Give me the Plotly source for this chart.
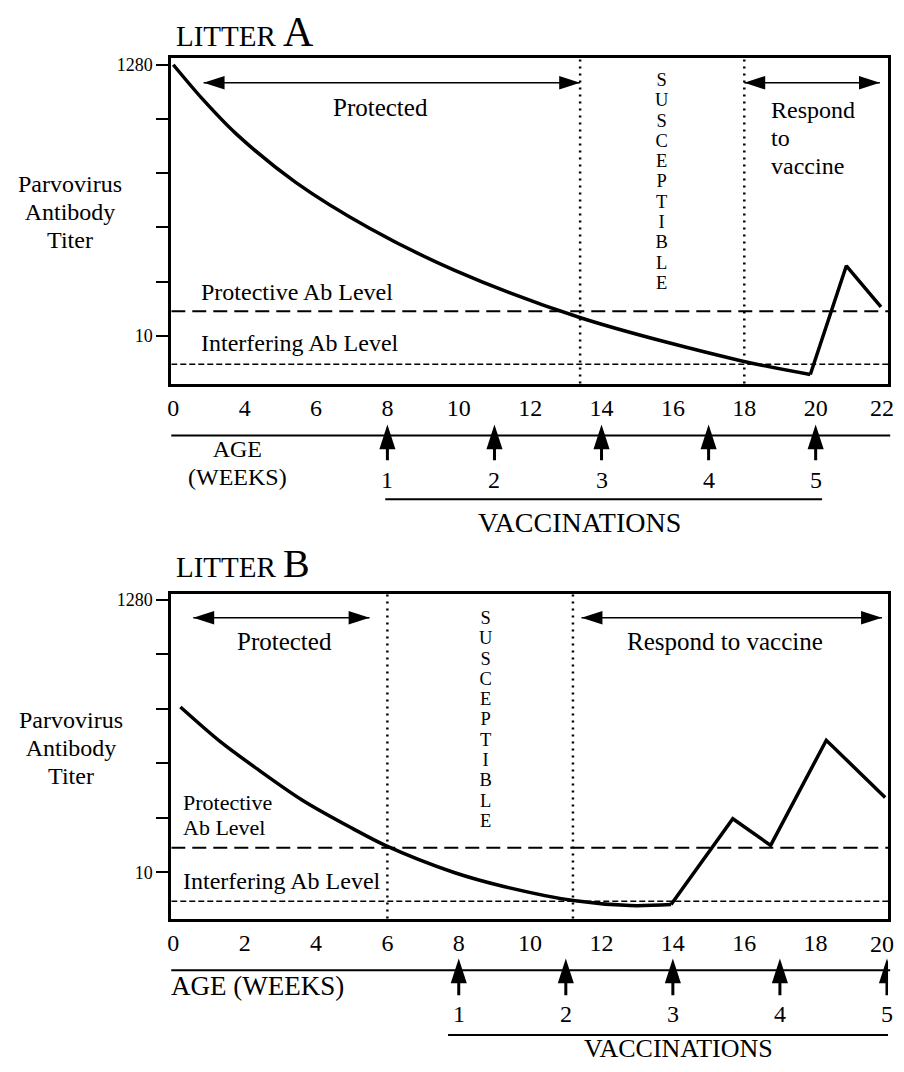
import numpy as np
import plotly.graph_objects as go

# the HTML body keeps its default 8px margin; the figure is sized to fit the window exactly
OFF = 8
W, H = 904 - 2 * OFF, 1072 - 2 * OFF
FONT = "Liberation Serif"

# ---------------- data ----------------
# Litter A (x axis labels are equally spaced, not linear in weeks)
a_tick_weeks = [0, 4, 6, 8, 10, 12, 14, 16, 18, 20, 22]
a_decay_weeks = [0, 1.67, 3.51, 5.43, 7.50, 9.87, 13.41, 17.9, 19.85]
a_decay_titer = [1280, 685, 373, 156, 68.6, 32.4, 13.8, 6.4, 5.0]
a_resp_weeks = [19.85, 20.86, 21.83]
a_resp_titer = [5.0, 35, 16.8]
a_boundaries = [13.4, 18]
a_protected_span = [1.7, 13.4]
a_respond_span = [18, 21.8]

# Litter B
b_tick_weeks = [0, 2, 4, 6, 8, 10, 12, 14, 16, 18, 20]
b_decay_weeks = [0.2, 1.31, 2.32, 3.63, 5.02, 5.94, 7.87, 9.26, 11.21, 12.8, 13.95]
b_decay_titer = [190, 103, 64, 36, 21.9, 16.2, 10, 7.8, 6.07, 5.55, 5.65]
b_resp_weeks = [13.95, 15.68, 16.74, 18.3, 19.95]
b_resp_titer = [5.65, 26, 16.2, 105, 38]
b_boundaries = [6, 11.2]
b_protected_span = [0.56, 5.5]
b_respond_span = [11.44, 19.86]

vacc_weeks = [8, 11, 14, 17, 20]
vacc_labels = ["1", "2", "3", "4", "5"]
protective_level = 15.5
interfering_level = 6.0
ytick_vals = list(np.geomspace(10, 1280, 6))
ytick_text = ["10", "", "", "", "", "1280"]

# ---------------- helpers ----------------
def px(x):
    return (x - OFF) / W

def py(y):
    return 1 - (y - OFF) / H

def xa(w):
    return np.interp(w, a_tick_weeks, np.arange(len(a_tick_weeks)))

def xb(w):
    return np.asarray(w, dtype=float)

def ml(parts, size):
    return "<br>".join(f"<span style='font-size:{size}px'>{p}</span>" for p in parts)

# panel geometry (page pixels)
A_TOP, A_BOT = 54, 381
B_TOP, B_BOT = 592, 918
LEFT, RIGHT = 168, 888
A_YR = [0.628, 3.161]
B_YR = [0.644, 3.153]
A_XR = [-0.028, 10.014]
B_XR = [-0.056, 20.03]

def yfrac(f, yr):
    return 10 ** (yr[0] + f * (yr[1] - yr[0]))

fig = go.Figure()
BLK = "black"

panels = [
    dict(xf=xa, xr=A_XR, yr=A_YR, xa="x", ya="y", vx="x3", vy="y3", top=A_TOP, bot=A_BOT,
         dw=a_decay_weeks, dt=a_decay_titer, rw=a_resp_weeks, rt=a_resp_titer,
         bnd=a_boundaries, spans=[a_protected_span, a_respond_span], arrow_f=0.9235, tip=0.78),
    dict(xf=xb, xr=B_XR, yr=B_YR, xa="x2", ya="y2", vx="x4", vy="y4", top=B_TOP, bot=B_BOT,
         dw=b_decay_weeks, dt=b_decay_titer, rw=b_resp_weeks, rt=b_resp_titer,
         bnd=b_boundaries, spans=[b_protected_span, b_respond_span], arrow_f=0.926, tip=0.80),
]

shapes = []
for p in panels:
    f = p["xf"]
    fig.add_trace(go.Scatter(x=p["xr"], y=[protective_level] * 2, mode="lines",
                             line=dict(color=BLK, width=2, dash="14px,7px"),
                             xaxis=p["xa"], yaxis=p["ya"], showlegend=False, hoverinfo="skip"))
    fig.add_trace(go.Scatter(x=p["xr"], y=[interfering_level] * 2, mode="lines",
                             line=dict(color=BLK, width=1.5, dash="6px,3px"),
                             xaxis=p["xa"], yaxis=p["ya"], showlegend=False, hoverinfo="skip"))
    fig.add_trace(go.Scatter(x=f(p["dw"]), y=p["dt"], mode="lines",
                             line=dict(color=BLK, width=3.5, shape="spline", smoothing=0.9),
                             xaxis=p["xa"], yaxis=p["ya"], showlegend=False))
    fig.add_trace(go.Scatter(x=f(p["rw"]), y=p["rt"], mode="lines",
                             line=dict(color=BLK, width=3.5),
                             xaxis=p["xa"], yaxis=p["ya"], showlegend=False))
    for b in p["bnd"]:
        shapes.append(dict(type="line", xref=p["xa"], yref=p["ya"] + " domain",
                           x0=float(f(b)), x1=float(f(b)), y0=0, y1=1,
                           line=dict(color=BLK, width=2.5, dash="2px,5px")))
    yv = yfrac(p["arrow_f"], p["yr"])
    for s in p["spans"]:
        fig.add_trace(go.Scatter(x=f(s), y=[yv, yv], mode="lines+markers",
                                 line=dict(color=BLK, width=1.5),
                                 marker=dict(symbol="arrow", size=22, angle=[-90, 90], color=BLK),
                                 xaxis=p["xa"], yaxis=p["ya"], showlegend=False, hoverinfo="skip"))
    # vaccination arrows in a strip subplot below the panel
    for v in vacc_weeks:
        fig.add_trace(go.Scatter(x=[float(f(v))] * 2, y=[0.06, 0.6], mode="lines",
                                 line=dict(color=BLK, width=3),
                                 xaxis=p["vx"], yaxis=p["vy"], showlegend=False, hoverinfo="skip"))
    fig.add_trace(go.Scatter(x=f(vacc_weeks), y=[p["tip"]] * len(vacc_weeks), mode="markers",
                             marker=dict(symbol="arrow", size=26, angle=0, color=BLK),
                             xaxis=p["vx"], yaxis=p["vy"], showlegend=False, hoverinfo="skip"))
    shapes.append(dict(type="line", xref=p["xa"] + " domain", yref="paper",
                       x0=0, x1=1.003, y0=py(p["bot"] + 52), y1=py(p["bot"] + 52),
                       line=dict(color=BLK, width=2)))

shapes.append(dict(type="line", xref="x", yref="paper", x0=float(xa(vacc_weeks[0])) - 0.03,
                   x1=float(xa(vacc_weeks[-1])) + 0.09, y0=py(497), y1=py(497),
                   line=dict(color=BLK, width=2)))
shapes.append(dict(type="line", xref="x2", yref="paper", x0=vacc_weeks[0] - 0.3,
                   x1=vacc_weeks[-1] + 0.08, y0=py(1035), y1=py(1035),
                   line=dict(color=BLK, width=2)))

ann = []

def T(text, x, y, size, xanchor="center", align="center", xref="paper"):
    ann.append(dict(text=text, x=px(x) if xref == "paper" else x, y=py(y), xref=xref, yref="paper",
                    showarrow=False, xanchor=xanchor, yanchor="middle", align=align,
                    font=dict(family=FONT, size=size, color=BLK)))

# last x tick label of each panel sits at the window edge: right-aligned so it is not cut
T(str(a_tick_weeks[-1]), 1.0, 406, 24, xanchor="right", xref="paper_edge")
T(str(b_tick_weeks[-1]), 1.0, 944, 24, xanchor="right", xref="paper_edge")
for a_ in ann[-2:]:
    a_["xref"] = "paper"

# Panel A texts
T("LITTER <span style='font-size:42px'>A</span>", 171, 28, 29, xanchor="left")
T("Protected", 378, 104, 25)
T(ml(["Respond", "to", "vaccine"], 24), 768, 134, 21.5, xanchor="left", align="left")
T(ml(list("SUSCEPTIBLE"), 18.5), 660, 178, 15.6)
T("Protective Ab Level", 196, 289, 24, xanchor="left")
T("Interfering Ab Level", 196, 340, 24, xanchor="left")
T(ml(["Parvovirus", "Antibody", "Titer"], 24), 66, 209, 21.5)
T(ml(["AGE", "(WEEKS)"], 24), 235, 461, 21.5)
for v, l in zip(vacc_weeks, vacc_labels):
    T(l, float(xa(v)), 478, 24, xref="x")
T("VACCINATIONS", 578, 520, 28)

# Panel B texts
T("LITTER <span style='font-size:40px'>B</span>", 171, 562, 29, xanchor="left")
T("Protected", 282, 640, 25)
T("Respond to vaccine", 724, 640, 25)
T(ml(list("SUSCEPTIBLE"), 18.5), 484, 718, 15.6)
T(ml(["Protective", "Ab Level"], 22), 178, 814, 19.5, xanchor="left", align="left")
T("Interfering Ab Level", 178, 880, 24, xanchor="left")
T(ml(["Parvovirus", "Antibody", "Titer"], 24), 67, 747, 21.5)
T("AGE (WEEKS)", 166, 986, 27, xanchor="left")
for v, l in zip(vacc_weeks, vacc_labels):
    T(l, v, 1014, 24, xref="x2")
T("VACCINATIONS", 678, 1048, 26)

common_x = dict(showline=True, mirror=True, linecolor=BLK, linewidth=3, ticks="",
                showgrid=False, zeroline=False, tickfont=dict(family=FONT, size=24, color=BLK),
                ticklabelstandoff=1, fixedrange=True)
common_y = dict(type="log", showline=True, mirror=True, linecolor=BLK, linewidth=3,
                ticks="outside", ticklen=12, tickwidth=1.5, tickcolor=BLK,
                tickvals=ytick_vals, ticktext=ytick_text, showgrid=False, zeroline=False,
                tickfont=dict(family=FONT, size=18, color=BLK), fixedrange=True)
hidden = dict(visible=False, showgrid=False, zeroline=False, fixedrange=True)

fig.update_layout(
    width=W, height=H, margin=dict(l=0, r=0, t=0, b=0),
    paper_bgcolor="white", plot_bgcolor="white", showlegend=False,
    font=dict(family=FONT, color=BLK),
    xaxis=dict(common_x, domain=[px(LEFT), px(RIGHT)], range=A_XR, anchor="y",
               tickvals=list(range(len(a_tick_weeks) - 1)),
               ticktext=[str(t) for t in a_tick_weeks[:-1]]),
    yaxis=dict(common_y, domain=[py(A_BOT), py(A_TOP)], range=A_YR, anchor="x"),
    xaxis2=dict(common_x, domain=[px(LEFT), px(RIGHT)], range=B_XR, anchor="y2",
                tickvals=b_tick_weeks[:-1], ticktext=[str(t) for t in b_tick_weeks[:-1]]),
    yaxis2=dict(common_y, domain=[py(B_BOT), py(B_TOP)], range=B_YR, anchor="x2"),
    xaxis3=dict(hidden, domain=[px(LEFT), px(RIGHT)], range=A_XR, anchor="y3"),
    yaxis3=dict(hidden, domain=[py(A_BOT + 80), py(A_BOT + 30)], range=[0, 1], anchor="x3"),
    xaxis4=dict(hidden, domain=[px(LEFT), px(RIGHT)], range=B_XR, anchor="y4"),
    yaxis4=dict(hidden, domain=[py(B_BOT + 80), py(B_BOT + 30)], range=[0, 1], anchor="x4"),
    shapes=shapes, annotations=ann,
)

fig.write_html("out.html", config={"displayModeBar": False, "responsive": False})
